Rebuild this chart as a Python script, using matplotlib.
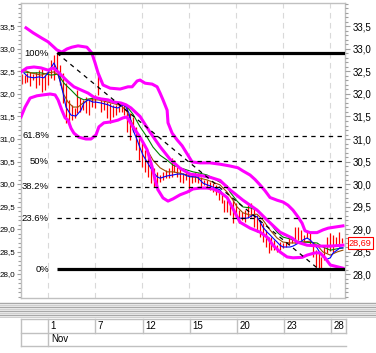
import matplotlib
matplotlib.use("Agg")
import matplotlib.pyplot as plt
import matplotlib.transforms as mtransforms
from matplotlib.ticker import FixedLocator, FuncFormatter
import numpy as np

plt.rcParams['font.family'] = ['Liberation Sans', 'DejaVu Sans']

# ---------------- data ----------------
bar_high = [32.44, 32.42, 32.47, 32.49, 32.44, 32.49, 32.53, 32.58, 32.42, 32.49,
            32.76, 32.87, 32.91, 32.64, 32.47, 32.24, 31.87, 31.76, 31.69, 32.09,
            31.91, 31.87, 31.93, 31.87, 31.93, 31.98, 32.47, 31.87, 31.87, 31.82,
            31.80, 31.76, 31.76, 31.80, 31.80, 31.76, 31.71, 31.58, 31.49, 31.27,
            31.02, 30.91, 30.76, 30.60, 30.49, 30.36, 30.27, 30.20, 30.27, 30.31,
            30.36, 30.58, 30.53, 30.38, 30.36, 30.24, 30.27, 30.24, 30.20, 30.27,
            30.24, 30.16, 30.09, 30.09, 30.04, 30.02, 29.98, 29.87, 29.80, 29.64,
            29.64, 29.58, 29.64, 29.58, 29.42, 29.38, 29.42, 29.53, 29.58, 29.49,
            29.31, 29.20, 29.13, 28.98, 28.82, 28.82, 28.76, 28.64, 28.71, 28.69,
            28.71, 28.80, 28.82, 29.04, 29.04, 28.98, 28.87, 28.93, 28.91, 28.71,
            28.53, 28.47, 28.38, 28.64, 28.82, 28.91, 28.87, 28.82, 28.93, 28.80]
bar_low = [32.22, 32.24, 32.27, 32.18, 32.31, 32.13, 32.20, 32.04, 32.09, 32.20,
           32.36, 32.31, 32.53, 32.20, 31.80, 31.36, 31.36, 31.42, 31.47, 31.58,
           31.60, 31.64, 31.58, 31.53, 31.71, 31.69, 31.98, 31.60, 31.64, 31.47,
           31.36, 31.49, 31.53, 31.60, 31.60, 31.53, 31.16, 30.98, 31.16, 30.76,
           30.53, 30.38, 30.27, 30.16, 30.02, 29.93, 29.87, 30.04, 30.09, 30.13,
           30.13, 30.16, 30.27, 30.16, 30.04, 30.02, 30.09, 29.82, 30.02, 30.04,
           30.02, 29.93, 29.98, 29.91, 29.87, 29.82, 29.76, 29.64, 29.58, 29.38,
           29.38, 29.31, 29.13, 29.24, 29.13, 29.20, 29.16, 29.24, 29.27, 29.04,
           28.93, 28.82, 28.71, 28.60, 28.47, 28.53, 28.53, 28.49, 28.53, 28.58,
           28.60, 28.64, 28.69, 28.69, 28.76, 28.76, 28.71, 28.80, 28.64, 28.38,
           28.16, 28.11, 28.11, 28.31, 28.47, 28.51, 28.49, 28.64, 28.60, 28.69]
last_price = 28.69

blue_x = [0.8, 2.2, 4.2, 5.9, 7.6, 9.0, 10.0, 11.0, 12.4, 12.7, 14.1, 15.1, 16.8, 18.5,
          20.2, 21.2, 22.6, 24.3, 25.3, 27.0, 29.4, 31.1, 32.8, 34.5, 35.5, 36.5,
          37.9, 39.3, 40.3, 41.3, 42.7, 43.7, 44.7, 46.1, 47.1, 49.5, 51.5, 52.9,
          54.9, 56.3, 57.3, 59.7, 60.7, 61.7, 63.1, 64.1, 65.1, 67.5, 68.5, 69.9,
          70.9, 71.9, 73.3, 74.3, 76.7, 77.7, 78.7, 80.1, 81.1, 82.1, 83.5, 84.5,
          85.5, 86.9, 87.9, 88.9, 91.3, 92.3, 93.7, 94.7, 95.8, 97.1, 98.1, 99.1,
          100.5, 101.5, 102.5, 103.9, 105.0, 106.0, 107.3, 108.3, 109.3]
blue_y = [32.47, 32.38, 32.36, 32.38, 32.36, 32.47, 32.58, 32.69, 32.49, 32.38, 32.02,
          31.71, 31.53, 31.51, 31.64, 31.80, 31.87, 31.82, 31.82, 31.80, 31.76, 31.71,
          31.69, 31.76, 31.71, 31.58, 31.20, 30.98, 30.80, 30.64, 30.49, 30.38, 30.27,
          30.16, 30.13, 30.18, 30.20, 30.22, 30.22, 30.18, 30.16, 30.16, 30.09, 30.02,
          29.98, 29.96, 29.93, 29.87, 29.76, 29.69, 29.60, 29.45, 29.27, 29.24, 29.24,
          29.27, 29.31, 29.27, 29.16, 29.04, 28.93, 28.87, 28.80, 28.71, 28.64, 28.60,
          28.60, 28.62, 28.67, 28.71, 28.76, 28.80, 28.76, 28.69, 28.58, 28.47, 28.38,
          28.33, 28.36, 28.47, 28.53, 28.58, 28.58]

brown_x = [0.8, 3.2, 6.6, 9.0, 11.0, 12.4, 13.4, 14.4, 15.8, 17.5, 19.2, 20.9, 22.6,
           26.0, 29.4, 32.8, 33.5, 35.8, 37.9, 40.3, 42.7, 44.7, 47.1, 49.5, 51.5,
           53.9, 56.3, 58.3, 60.7, 63.1, 65.1, 67.5, 69.9, 71.9, 73.3, 75.3, 77.7,
           80.1, 82.1, 84.5, 86.9, 88.9, 91.3, 93.7, 95.8, 98.1, 100.5, 102.5, 105.0,
           107.3, 109.3]
brown_y = [32.53, 32.47, 32.42, 32.47, 32.49, 32.42, 32.24, 31.98, 31.82, 31.71, 31.71,
           31.80, 31.87, 31.87, 31.82, 31.76, 31.76, 31.62, 31.31, 31.02, 30.76, 30.53,
           30.36, 30.27, 30.27, 30.24, 30.20, 30.16, 30.13, 30.09, 30.04, 29.98, 29.82,
           29.64, 29.49, 29.36, 29.31, 29.33, 29.20, 28.98, 28.80, 28.71, 28.69, 28.69,
           28.71, 28.73, 28.64, 28.49, 28.42, 28.49, 28.53]

green_x = [0.8, 3.2, 6.6, 10.0, 12.4, 14.4, 16.8, 19.2, 21.2, 24.6, 28.0, 31.4, 34.8,
           35.8, 37.9, 40.3, 42.7, 44.7, 47.1, 49.5, 51.5, 53.9, 56.3, 58.3, 60.7,
           63.1, 65.1, 67.5, 69.9, 70.9, 73.3, 75.3, 77.7, 80.1, 82.1, 84.5, 86.9,
           88.9, 91.3, 93.7, 95.8, 100.5, 102.5, 105.0, 107.3, 109.3]
green_y = [32.49, 32.47, 32.47, 32.42, 32.44, 32.24, 32.09, 31.93, 31.87, 31.91, 31.87,
           31.82, 31.76, 31.72, 31.55, 31.27, 31.04, 30.82, 30.64, 30.53, 30.42, 30.36,
           30.31, 30.27, 30.24, 30.20, 30.13, 30.04, 29.96, 29.82, 29.62, 29.49, 29.47,
           29.42, 29.27, 29.13, 28.93, 28.82, 28.78, 28.73, 28.71, 28.69, 28.60, 28.53,
           28.56, 28.58]

upper_x = [1.5, 3.9, 6.9, 9.0, 12.0, 13.7, 15.4, 17.1, 19.2, 22.2, 23.9, 25.0, 26.0,
           27.7, 30.1, 33.5, 36.2, 37.6, 39.3, 40.3, 42.0, 44.4, 46.1, 47.1, 48.1,
           49.5, 49.8, 51.2, 52.9, 54.6, 56.3, 58.0, 60.7, 64.1, 67.5, 70.9, 73.6,
           75.3, 77.7, 79.4, 81.1, 82.8, 84.5, 86.9, 88.9, 90.6, 92.3, 94.0, 95.4,
           96.4, 98.1, 100.5, 102.5, 104.3, 107.3, 109.3]
upper_y = [33.47, 33.36, 33.24, 33.16, 32.98, 32.93, 33.00, 33.04, 33.07, 33.04, 32.91,
           32.69, 32.47, 32.20, 32.13, 32.11, 32.16, 32.16, 32.29, 32.31, 32.24, 32.22,
           32.16, 32.02, 31.87, 31.64, 31.36, 31.13, 30.98, 30.85, 30.67, 30.49, 30.47,
           30.47, 30.44, 30.40, 30.36, 30.29, 30.20, 30.10, 29.98, 29.85, 29.70, 29.64,
           29.60, 29.53, 29.42, 29.27, 29.13, 28.96, 28.92, 28.92, 28.98, 29.02, 29.05,
           29.07]

middle_x = [-0.2, 1.8, 4.2, 6.6, 9.0, 10.7, 12.4, 14.1, 15.8, 17.8, 20.2, 22.6, 24.6,
            27.0, 29.4, 31.4, 33.8, 35.5, 37.2, 40.3, 43.7, 47.1, 50.5, 53.9, 57.3,
            60.7, 64.1, 67.5, 70.9, 75.3, 80.1, 83.5, 87.9, 92.0, 93.7, 97.1, 101.5,
            105.0, 109.3]
middle_y = [32.49, 32.58, 32.60, 32.58, 32.53, 32.58, 32.49, 32.38, 32.27, 32.16, 32.09,
            32.02, 31.93, 31.89, 31.87, 31.82, 31.80, 31.76, 31.69, 31.50, 31.15, 30.83,
            30.55, 30.35, 30.22, 30.19, 30.15, 30.08, 29.87, 29.64, 29.42, 29.20, 28.93,
            28.80, 28.71, 28.64, 28.62, 28.62, 28.64]

lower_x = [-0.2, 1.2, 2.9, 5.2, 7.3, 9.7, 11.4, 12.4, 13.7, 14.8, 15.8, 16.8, 17.8,
           19.5, 21.9, 23.6, 25.3, 26.3, 28.0, 30.4, 32.8, 34.5, 35.8, 37.9, 40.3,
           42.7, 44.4, 45.4, 46.4, 48.1, 49.8, 51.5, 53.9, 56.3, 58.3, 60.7, 63.1,
           65.1, 67.5, 69.9, 71.9, 74.3, 77.7, 81.1, 83.5, 85.5, 87.9, 90.3, 92.3,
           95.4, 97.1, 99.8, 101.5, 103.2, 105.0, 109.3]
lower_y = [31.49, 31.71, 31.91, 31.96, 31.98, 32.00, 31.98, 31.87, 31.64, 31.47, 31.42,
           31.24, 31.13, 31.04, 31.00, 31.00, 31.09, 31.27, 31.36, 31.38, 31.42, 31.47,
           31.49, 31.27, 31.04, 30.76, 30.38, 30.09, 29.87, 29.69, 29.62, 29.67, 29.76,
           29.82, 29.89, 29.91, 29.91, 29.89, 29.82, 29.70, 29.45, 29.15, 29.02, 28.93,
           28.82, 28.64, 28.49, 28.38, 28.36, 28.37, 28.42, 28.47, 28.47, 28.36, 28.20,
           28.13]

fib_levels = [1.0, 0.618, 0.5, 0.382, 0.236, 0.0]
fib_labels = ["100%", "61.8%", "50%", "38.2%", "23.6%", "0%"]
fib_high_idx, fib_low_idx = 12, 101

y_major = [28.0, 28.5, 29.0, 29.5, 30.0, 30.5, 31.0, 31.5, 32.0, 32.5, 33.0, 33.5]
y_minor_step = 0.1

date_idx = [9, 25, 41, 57, 73, 89, 105]
date_labels = ["1", "7", "12", "15", "20", "23", "28"]
month_label = "Nov"

# ---------------- figure ----------------
W, H = 376, 353
fig = plt.figure(figsize=(W / 100, H / 100), dpi=100)
fig.patch.set_facecolor('white')

def fy(ypix):
    return 1 - ypix / H

XLIM = (-0.2, 110.0)
YLIM = (27.467, 34.022)

ax = fig.add_axes([21 / W, fy(298), 324 / W, 295 / H])
ax.set_xlim(*XLIM)
ax.set_ylim(*YLIM)

for s in ax.spines.values():
    s.set_color('#c0c0c0')
    s.set_linewidth(1.0)

# vertical gridlines
for d in date_idx:
    ax.axvline(d, color='#d9d9d9', lw=0.8, ls=(0, (5, 4)), zorder=0)

# price bars
x_bars = np.arange(len(bar_high))
ax.vlines(x_bars, bar_low, bar_high, color='#ff0000', lw=0.9, zorder=2)

# moving averages
ax.plot(green_x, green_y, color='#008000', lw=0.8, zorder=3)
ax.plot(brown_x, brown_y, color='#994c00', lw=0.8, zorder=3)
ax.plot(blue_x, blue_y, color='#0000ff', lw=0.8, zorder=4)

# bands
for bx, by in [(upper_x, upper_y), (middle_x, middle_y), (lower_x, lower_y)]:
    ax.plot(bx, by, color='#ff00ff', lw=2.2, zorder=5, solid_joinstyle='round')

# fibonacci
hi = bar_high[fib_high_idx]
lo = bar_low[fib_low_idx]
for lev, lab in zip(fib_levels, fib_labels):
    val = lo + (hi - lo) * lev
    if lev in (0.0, 1.0):
        ax.plot([fib_high_idx, XLIM[1]], [val, val], color='black', lw=2.3, zorder=6,
                solid_capstyle='butt')
    else:
        ax.plot([fib_high_idx, XLIM[1]], [val, val], color='black', lw=0.9,
                ls=(0, (3.5, 3.5)), zorder=6)
    ax.text(9.3, val, lab, ha='right', va='center', fontsize=6.8, color='black', zorder=7)
ax.plot([fib_high_idx, fib_low_idx], [hi, lo], color='black', lw=0.9,
        ls=(0, (3.5, 3.5)), zorder=6)

# minor tick positions
minor_ticks = [round(27.5 + k * y_minor_step, 1) for k in range(66)]
comma = FuncFormatter(lambda v, p: f"{v:.1f}".replace('.', ','))

# left axis (small labels so they fit)
ax.yaxis.set_major_locator(FixedLocator(y_major))
ax.yaxis.set_minor_locator(FixedLocator(minor_ticks))
ax.yaxis.set_major_formatter(comma)
ax.tick_params(axis='y', which='both', left=True, right=False, labelleft=True,
               labelright=False, color='#a0a0a0', labelsize=5.8, direction='out', pad=1)
ax.tick_params(axis='y', which='major', length=3.0, width=0.8)
ax.tick_params(axis='y', which='minor', length=2.0, width=0.8)
ax.set_xticks([])

# right axis
axr = ax.twinx()
axr.set_ylim(*YLIM)
for s in axr.spines.values():
    s.set_visible(False)
axr.yaxis.set_major_locator(FixedLocator(y_major))
axr.yaxis.set_minor_locator(FixedLocator(minor_ticks))
axr.yaxis.set_major_formatter(comma)
axr.tick_params(axis='y', which='both', color='#a0a0a0', labelsize=7, direction='out', pad=2)
axr.tick_params(axis='y', which='major', length=3.5, width=0.8)
axr.tick_params(axis='y', which='minor', length=2.3, width=0.8)

# last price box
trans = mtransforms.blended_transform_factory(axr.transAxes, axr.transData)
axr.text(1.012, last_price, f"{last_price:.2f}".replace('.', ','), transform=trans,
         ha='left', va='center', fontsize=6.6, color='#ff0000', clip_on=False, zorder=8,
         bbox=dict(boxstyle='square,pad=0.15', fc='white', ec='#ff0000', lw=0.8))

# separator between chart and date table
sep = fig.add_axes([0, fy(318), 1.0, 16 / H])
sep.set_xlim(0, W)
sep.set_ylim(318, 302)
sep.axis('off')
for k, yy in enumerate(np.arange(303, 318, 2.0)):
    sep.axhline(yy, color='#a8a8a8' if k % 2 == 0 else '#d0d0d0', lw=1.0)

# date table
tax = fig.add_axes([21 / W, fy(346), 325 / W, 27 / H], sharex=ax)
tax.set_ylim(0, 27)
tax.axis('off')
tc = '#c0c0c0'
tb = mtransforms.blended_transform_factory(tax.transAxes, tax.transData)
for (x0, x1, y0, y1) in [(0, 1, 27, 27), (0, 1, 13, 13), (0, 1, 0, 0), (0, 0, 0, 27), (1, 1, 13, 27)]:
    tax.plot([x0, x1], [y0, y1], color=tc, lw=1, transform=tb, clip_on=False)
for k, (d, lab) in enumerate(zip(date_idx, date_labels)):
    tax.plot([d, d], [13 if k else 0, 27], color=tc, lw=1, clip_on=False)
    tax.text(d + 0.9, 20, lab, ha='left', va='center', fontsize=7, color='black')
tax.text(date_idx[0] + 0.9, 6.5, month_label, ha='left', va='center', fontsize=7, color='black')

fig.savefig('out.png', dpi=100, facecolor='white')
